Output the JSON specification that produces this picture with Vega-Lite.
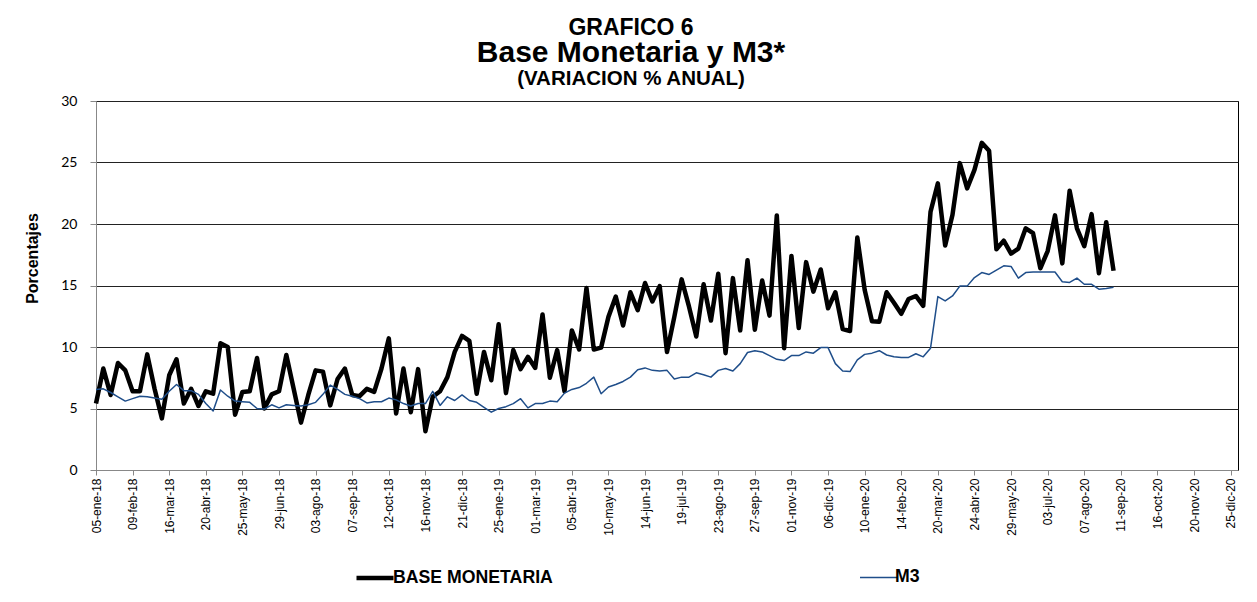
{
  "$schema": "https://vega.github.io/schema/vega-lite/v6.json",
  "padding": {"left": 23, "top": 16, "right": 5, "bottom": 5},
  "background": "white",
  "title": {"text": "GRAFICO 6", "fontSize": 23, "font": "Liberation Sans", "fontWeight": "bold", "color": "#000", "anchor": "middle", "offset": -2},
  "config": {
    "view": {"stroke": "#000", "strokeWidth": 1},
    "font": "Liberation Sans"
  },
  "datasets": {
    "serie": [
      {"fecha": "2018-01-05", "bm": 5.4, "m3": 6.55},
      {"fecha": "2018-01-12", "bm": 8.25, "m3": 6.6},
      {"fecha": "2018-01-19", "bm": 6.1, "m3": 6.3},
      {"fecha": "2018-01-26", "bm": 8.7, "m3": 5.95},
      {"fecha": "2018-02-02", "bm": 8.1, "m3": 5.6},
      {"fecha": "2018-02-09", "bm": 6.4, "m3": 5.8},
      {"fecha": "2018-02-16", "bm": 6.4, "m3": 6.0},
      {"fecha": "2018-02-23", "bm": 9.4, "m3": 5.95},
      {"fecha": "2018-03-02", "bm": 6.6, "m3": 5.85},
      {"fecha": "2018-03-09", "bm": 4.2, "m3": 5.75},
      {"fecha": "2018-03-16", "bm": 7.7, "m3": 6.4},
      {"fecha": "2018-03-23", "bm": 9.0, "m3": 6.95},
      {"fecha": "2018-03-30", "bm": 5.4, "m3": 6.45},
      {"fecha": "2018-04-06", "bm": 6.6, "m3": 6.45},
      {"fecha": "2018-04-13", "bm": 5.2, "m3": 6.15},
      {"fecha": "2018-04-20", "bm": 6.4, "m3": 5.4},
      {"fecha": "2018-04-27", "bm": 6.2, "m3": 4.8},
      {"fecha": "2018-05-04", "bm": 10.3, "m3": 6.5},
      {"fecha": "2018-05-11", "bm": 10.0, "m3": 6.0},
      {"fecha": "2018-05-18", "bm": 4.5, "m3": 5.6},
      {"fecha": "2018-05-25", "bm": 6.35, "m3": 5.55},
      {"fecha": "2018-06-01", "bm": 6.4, "m3": 5.5},
      {"fecha": "2018-06-08", "bm": 9.1, "m3": 5.0},
      {"fecha": "2018-06-15", "bm": 5.0, "m3": 4.95},
      {"fecha": "2018-06-22", "bm": 6.15, "m3": 5.3},
      {"fecha": "2018-06-29", "bm": 6.4, "m3": 5.05},
      {"fecha": "2018-07-06", "bm": 9.35, "m3": 5.3},
      {"fecha": "2018-07-13", "bm": 6.6, "m3": 5.25},
      {"fecha": "2018-07-20", "bm": 3.85, "m3": 5.2},
      {"fecha": "2018-07-27", "bm": 6.1, "m3": 5.3},
      {"fecha": "2018-08-03", "bm": 8.1, "m3": 5.5},
      {"fecha": "2018-08-10", "bm": 8.0, "m3": 6.15},
      {"fecha": "2018-08-17", "bm": 5.25, "m3": 6.9},
      {"fecha": "2018-08-24", "bm": 7.4, "m3": 6.55},
      {"fecha": "2018-08-31", "bm": 8.25, "m3": 6.15},
      {"fecha": "2018-09-07", "bm": 6.1, "m3": 6.0},
      {"fecha": "2018-09-14", "bm": 6.0, "m3": 5.8},
      {"fecha": "2018-09-21", "bm": 6.6, "m3": 5.45},
      {"fecha": "2018-09-28", "bm": 6.35, "m3": 5.55},
      {"fecha": "2018-10-05", "bm": 8.25, "m3": 5.55},
      {"fecha": "2018-10-12", "bm": 10.7, "m3": 5.85},
      {"fecha": "2018-10-19", "bm": 4.6, "m3": 5.7},
      {"fecha": "2018-10-26", "bm": 8.25, "m3": 5.4},
      {"fecha": "2018-11-02", "bm": 4.7, "m3": 5.2},
      {"fecha": "2018-11-09", "bm": 8.2, "m3": 5.4},
      {"fecha": "2018-11-16", "bm": 3.15, "m3": 5.4},
      {"fecha": "2018-11-23", "bm": 5.95, "m3": 6.4},
      {"fecha": "2018-11-30", "bm": 6.4, "m3": 5.25},
      {"fecha": "2018-12-07", "bm": 7.55, "m3": 5.95},
      {"fecha": "2018-12-14", "bm": 9.6, "m3": 5.65},
      {"fecha": "2018-12-21", "bm": 10.9, "m3": 6.1},
      {"fecha": "2018-12-28", "bm": 10.5, "m3": 5.65},
      {"fecha": "2019-01-04", "bm": 6.2, "m3": 5.5},
      {"fecha": "2019-01-11", "bm": 9.6, "m3": 5.1},
      {"fecha": "2019-01-18", "bm": 7.3, "m3": 4.7},
      {"fecha": "2019-01-25", "bm": 11.85, "m3": 5.0},
      {"fecha": "2019-02-01", "bm": 6.25, "m3": 5.15},
      {"fecha": "2019-02-08", "bm": 9.75, "m3": 5.4},
      {"fecha": "2019-02-15", "bm": 8.2, "m3": 5.8},
      {"fecha": "2019-02-22", "bm": 9.2, "m3": 5.05},
      {"fecha": "2019-03-01", "bm": 8.3, "m3": 5.4},
      {"fecha": "2019-03-08", "bm": 12.65, "m3": 5.4},
      {"fecha": "2019-03-15", "bm": 7.5, "m3": 5.6},
      {"fecha": "2019-03-22", "bm": 9.75, "m3": 5.55},
      {"fecha": "2019-03-29", "bm": 6.4, "m3": 6.25},
      {"fecha": "2019-04-05", "bm": 11.35, "m3": 6.55},
      {"fecha": "2019-04-12", "bm": 9.8, "m3": 6.7},
      {"fecha": "2019-04-19", "bm": 14.8, "m3": 7.05},
      {"fecha": "2019-04-26", "bm": 9.8, "m3": 7.55},
      {"fecha": "2019-05-03", "bm": 9.95, "m3": 6.2},
      {"fecha": "2019-05-10", "bm": 12.45, "m3": 6.75},
      {"fecha": "2019-05-17", "bm": 14.1, "m3": 6.95},
      {"fecha": "2019-05-24", "bm": 11.75, "m3": 7.2},
      {"fecha": "2019-05-31", "bm": 14.45, "m3": 7.55},
      {"fecha": "2019-06-07", "bm": 13.0, "m3": 8.15},
      {"fecha": "2019-06-14", "bm": 15.2, "m3": 8.3},
      {"fecha": "2019-06-21", "bm": 13.7, "m3": 8.1},
      {"fecha": "2019-06-28", "bm": 14.95, "m3": 8.05},
      {"fecha": "2019-07-05", "bm": 9.6, "m3": 8.1},
      {"fecha": "2019-07-12", "bm": 12.45, "m3": 7.4},
      {"fecha": "2019-07-19", "bm": 15.5, "m3": 7.55},
      {"fecha": "2019-07-26", "bm": 13.3, "m3": 7.55},
      {"fecha": "2019-08-02", "bm": 10.85, "m3": 7.9},
      {"fecha": "2019-08-09", "bm": 15.1, "m3": 7.75},
      {"fecha": "2019-08-16", "bm": 12.15, "m3": 7.55},
      {"fecha": "2019-08-23", "bm": 15.95, "m3": 8.1},
      {"fecha": "2019-08-30", "bm": 9.5, "m3": 8.25},
      {"fecha": "2019-09-06", "bm": 15.6, "m3": 8.05},
      {"fecha": "2019-09-13", "bm": 11.35, "m3": 8.65},
      {"fecha": "2019-09-20", "bm": 17.05, "m3": 9.55},
      {"fecha": "2019-09-27", "bm": 11.4, "m3": 9.7},
      {"fecha": "2019-10-04", "bm": 15.4, "m3": 9.6},
      {"fecha": "2019-10-11", "bm": 12.55, "m3": 9.3},
      {"fecha": "2019-10-18", "bm": 20.7, "m3": 9.0},
      {"fecha": "2019-10-25", "bm": 9.9, "m3": 8.9},
      {"fecha": "2019-11-01", "bm": 17.4, "m3": 9.3},
      {"fecha": "2019-11-08", "bm": 11.55, "m3": 9.3},
      {"fecha": "2019-11-15", "bm": 16.9, "m3": 9.6},
      {"fecha": "2019-11-22", "bm": 14.5, "m3": 9.5},
      {"fecha": "2019-11-29", "bm": 16.3, "m3": 9.95},
      {"fecha": "2019-12-06", "bm": 13.15, "m3": 9.95},
      {"fecha": "2019-12-13", "bm": 14.45, "m3": 8.65},
      {"fecha": "2019-12-20", "bm": 11.45, "m3": 8.05},
      {"fecha": "2019-12-27", "bm": 11.3, "m3": 8.0},
      {"fecha": "2020-01-03", "bm": 18.9, "m3": 8.95},
      {"fecha": "2020-01-10", "bm": 14.65, "m3": 9.4},
      {"fecha": "2020-01-17", "bm": 12.1, "m3": 9.5},
      {"fecha": "2020-01-24", "bm": 12.05, "m3": 9.7},
      {"fecha": "2020-01-31", "bm": 14.45, "m3": 9.35},
      {"fecha": "2020-02-07", "bm": 13.6, "m3": 9.2},
      {"fecha": "2020-02-14", "bm": 12.7, "m3": 9.15},
      {"fecha": "2020-02-21", "bm": 13.9, "m3": 9.15},
      {"fecha": "2020-02-28", "bm": 14.15, "m3": 9.45},
      {"fecha": "2020-03-06", "bm": 13.35, "m3": 9.2},
      {"fecha": "2020-03-13", "bm": 21.0, "m3": 9.9},
      {"fecha": "2020-03-20", "bm": 23.3, "m3": 14.1},
      {"fecha": "2020-03-27", "bm": 18.25, "m3": 13.75},
      {"fecha": "2020-04-03", "bm": 20.75, "m3": 14.15},
      {"fecha": "2020-04-10", "bm": 24.95, "m3": 14.95},
      {"fecha": "2020-04-17", "bm": 22.9, "m3": 14.95},
      {"fecha": "2020-04-24", "bm": 24.4, "m3": 15.65},
      {"fecha": "2020-05-01", "bm": 26.6, "m3": 16.05},
      {"fecha": "2020-05-08", "bm": 25.95, "m3": 15.9},
      {"fecha": "2020-05-15", "bm": 17.95, "m3": 16.25},
      {"fecha": "2020-05-22", "bm": 18.65, "m3": 16.6},
      {"fecha": "2020-05-29", "bm": 17.6, "m3": 16.55},
      {"fecha": "2020-06-05", "bm": 18.0, "m3": 15.6},
      {"fecha": "2020-06-12", "bm": 19.65, "m3": 16.05},
      {"fecha": "2020-06-19", "bm": 19.25, "m3": 16.1},
      {"fecha": "2020-06-26", "bm": 16.4, "m3": 16.1},
      {"fecha": "2020-07-03", "bm": 17.8, "m3": 16.1},
      {"fecha": "2020-07-10", "bm": 20.7, "m3": 16.1},
      {"fecha": "2020-07-17", "bm": 16.8, "m3": 15.3},
      {"fecha": "2020-07-24", "bm": 22.7, "m3": 15.25},
      {"fecha": "2020-07-31", "bm": 19.65, "m3": 15.6},
      {"fecha": "2020-08-07", "bm": 18.2, "m3": 15.1},
      {"fecha": "2020-08-14", "bm": 20.8, "m3": 15.1},
      {"fecha": "2020-08-21", "bm": 16.0, "m3": 14.7},
      {"fecha": "2020-08-28", "bm": 20.15, "m3": 14.75},
      {"fecha": "2020-09-04", "bm": 16.2, "m3": 14.85}
    ]
  },
  "vconcat": [
    {
      "title": {"text": "Base Monetaria y M3*", "subtitle": "(VARIACION % ANUAL)", "fontSize": 30, "subtitleFontSize": 20.5, "font": "Liberation Sans", "subtitleFont": "Liberation Sans", "fontWeight": "bold", "subtitleFontWeight": "bold", "color": "#000", "subtitleColor": "#000", "subtitlePadding": 0.5, "offset": 5, "anchor": "middle", "frame": "bounds"},
      "width": 1142,
      "height": 369,
      "data": {"name": "serie"},
      "transform": [{"fold": ["bm", "m3"], "as": ["serie", "valor"]}],
      "mark": {"type": "line", "strokeJoin": "round", "strokeCap": "butt"},
      "encoding": {
        "x": {
          "field": "fecha",
          "type": "temporal",
          "scale": {"type": "utc", "nice": false, "domain": [{"year": 2018, "month": 1, "date": 5, "utc": true}, {"year": 2021, "month": 1, "date": 1, "utc": true}]},
          "axis": {
            "title": null,
            "grid": false,
            "values": [
              {"year": 2018, "month": 1, "date": 5, "utc": true},
              {"year": 2018, "month": 2, "date": 9, "utc": true},
              {"year": 2018, "month": 3, "date": 16, "utc": true},
              {"year": 2018, "month": 4, "date": 20, "utc": true},
              {"year": 2018, "month": 5, "date": 25, "utc": true},
              {"year": 2018, "month": 6, "date": 29, "utc": true},
              {"year": 2018, "month": 8, "date": 3, "utc": true},
              {"year": 2018, "month": 9, "date": 7, "utc": true},
              {"year": 2018, "month": 10, "date": 12, "utc": true},
              {"year": 2018, "month": 11, "date": 16, "utc": true},
              {"year": 2018, "month": 12, "date": 21, "utc": true},
              {"year": 2019, "month": 1, "date": 25, "utc": true},
              {"year": 2019, "month": 3, "date": 1, "utc": true},
              {"year": 2019, "month": 4, "date": 5, "utc": true},
              {"year": 2019, "month": 5, "date": 10, "utc": true},
              {"year": 2019, "month": 6, "date": 14, "utc": true},
              {"year": 2019, "month": 7, "date": 19, "utc": true},
              {"year": 2019, "month": 8, "date": 23, "utc": true},
              {"year": 2019, "month": 9, "date": 27, "utc": true},
              {"year": 2019, "month": 11, "date": 1, "utc": true},
              {"year": 2019, "month": 12, "date": 6, "utc": true},
              {"year": 2020, "month": 1, "date": 10, "utc": true},
              {"year": 2020, "month": 2, "date": 14, "utc": true},
              {"year": 2020, "month": 3, "date": 20, "utc": true},
              {"year": 2020, "month": 4, "date": 24, "utc": true},
              {"year": 2020, "month": 5, "date": 29, "utc": true},
              {"year": 2020, "month": 7, "date": 3, "utc": true},
              {"year": 2020, "month": 8, "date": 7, "utc": true},
              {"year": 2020, "month": 9, "date": 11, "utc": true},
              {"year": 2020, "month": 10, "date": 16, "utc": true},
              {"year": 2020, "month": 11, "date": 20, "utc": true},
              {"year": 2020, "month": 12, "date": 25, "utc": true}
            ],
            "labelExpr": "utcFormat(datum.value, '%d') + '-' + ['ene','feb','mar','abr','may','jun','jul','ago','sep','oct','nov','dic'][utcmonth(datum.value)] + '-' + utcFormat(datum.value, '%y')",
            "labelAngle": 270,
            "labelAlign": "right",
            "labelBaseline": "middle",
            "labelFont": "Liberation Sans",
            "labelFontSize": 12,
            "labelColor": "#000",
            "labelPadding": 3,
            "labelOverlap": false,
            "labelFlush": false,
            "tickSize": 5,
            "tickColor": "#888",
            "domainColor": "#888"
          }
        },
        "y": {
          "field": "valor",
          "type": "quantitative",
          "scale": {"domain": [0, 30], "nice": false},
          "axis": {
            "title": "Porcentajes",
            "titleFont": "Liberation Sans",
            "titleFontSize": 16,
            "titleFontWeight": "bold",
            "titleColor": "#000",
            "titleAngle": 270,
            "titleBaseline": "middle",
            "titleAlign": "center",
            "titleX": -64,
            "titleY": 157,
            "values": [0, 5, 10, 15, 20, 25, 30],
            "grid": true,
            "gridColor": "#222",
            "gridWidth": 1,
            "gridOpacity": 1,
            "labelFont": "Lato",
            "labelFontSize": 14,
            "labelColor": "#000",
            "labelPadding": 13,
            "tickSize": 6,
            "tickColor": "#888",
            "domainColor": "#888"
          }
        },
        "color": {
          "field": "serie",
          "type": "nominal",
          "scale": {"domain": ["bm", "m3"], "range": ["#000000", "#1F4E8A"]},
          "legend": {
            "title": null,
            "orient": "none",
            "legendX": 258,
            "legendY": 456,
            "direction": "horizontal",
            "columnPadding": 304,
            "padding": 0,
            "symbolType": "stroke",
            "symbolSize": 1369,
            "labelOffset": -3,
            "labelFont": "Liberation Sans",
            "labelFontSize": 17.7,
            "labelFontWeight": "bold",
            "labelColor": "#000",
            "labelLimit": 400,
            "labelExpr": "datum.label == 'bm' ? 'BASE MONETARIA' : 'M3'"
          }
        },
        "strokeWidth": {
          "field": "serie",
          "type": "nominal",
          "scale": {"domain": ["bm", "m3"], "range": [4.5, 1.5]},
          "legend": {
            "title": null,
            "orient": "none",
            "legendX": 258,
            "legendY": 456,
            "direction": "horizontal",
            "columnPadding": 304,
            "padding": 0,
            "symbolType": "stroke",
            "symbolSize": 1369,
            "labelOffset": -3,
            "labelFont": "Liberation Sans",
            "labelFontSize": 17.7,
            "labelFontWeight": "bold",
            "labelColor": "#000",
            "labelLimit": 400,
            "labelExpr": "datum.label == 'bm' ? 'BASE MONETARIA' : 'M3'"
          }
        }
      }
    }
  ]
}
